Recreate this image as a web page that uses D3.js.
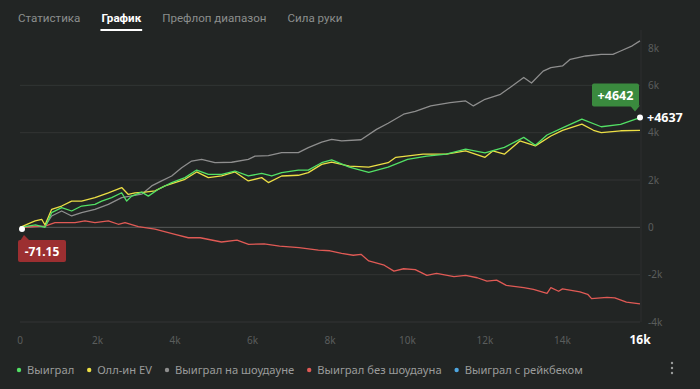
<!DOCTYPE html>
<html>
<head>
<meta charset="utf-8">
<script src="https://cdn.jsdelivr.net/npm/d3@7"></script>
<style>
  html, body { margin: 0; padding: 0; background: #222524; }
  svg { display: block; font-family: "Noto Sans", Roboto, sans-serif; }
</style>
</head>
<body>
<div id="viz"></div>
<script>
// tabs on top
const tabs = ["Статистика", "График", "Префлоп диапазон", "Сила руки"];
const activeTab = "График";

// axis ticks
const xTicks = [0, 2000, 4000, 6000, 8000, 10000, 12000, 14000, 16000];
const xTickLabels = ["0", "2k", "4k", "6k", "8k", "10k", "12k", "14k", "16k"];
const yTicks = [-4000, -2000, 0, 2000, 4000, 6000, 8000];
const yTickLabels = ["-4k", "-2k", "0", "2k", "4k", "6k", "8k"];

// series: [hands, winnings]
const wonShowdown = [
  [0, 0], [400, 40], [650, 50], [817, 480], [1075, 690], [1333, 480], [1590, 620],
  [1935, 760], [2280, 970], [2624, 1255], [2882, 1330], [3140, 1400], [3398, 1750],
  [3656, 1960], [3914, 2170], [4172, 2520], [4430, 2800], [4688, 2870], [5032, 2730],
  [5462, 2750], [5892, 2870], [6065, 3010], [6409, 3030], [6752, 3160], [7183, 3160],
  [7440, 3370], [7785, 3600], [8043, 3720], [8300, 3650], [8800, 3700], [9200, 4140],
  [9500, 4400], [9900, 4780], [10200, 4900], [10600, 5130], [11100, 5270], [11500, 5340],
  [11700, 5130], [12000, 5410], [12400, 5620], [12700, 5970], [13000, 6330], [13200, 6100],
  [13500, 6600], [13700, 6750], [14000, 6820], [14200, 7100], [14600, 7240], [15000, 7310],
  [15300, 7310], [15500, 7450], [15800, 7670], [16000, 7880]
];
const wonNoShowdown = [
  [0, 0], [645, 50], [903, 200], [1420, 200], [1677, 270], [1935, 200], [2280, 270],
  [2537, 130], [2710, 200], [3054, 30], [3484, -80], [4000, -300], [4344, -440],
  [4650, -440], [5200, -620], [5600, -540], [5900, -720], [6300, -700], [6700, -790],
  [7200, -860], [7700, -960], [8000, -990], [8300, -1100], [8600, -1180], [8800, -1140],
  [9000, -1420], [9400, -1600], [9650, -1850], [9900, -1750], [10200, -1790], [10500, -2030],
  [10750, -1950], [11200, -2080], [11500, -2030], [11800, -2130], [12050, -2270], [12300, -2230],
  [12550, -2450], [13000, -2550], [13250, -2620], [13600, -2790], [13700, -2550], [13900, -2700],
  [14000, -2600], [14450, -2730], [14650, -2830], [14750, -3010], [15150, -2960], [15350, -2980],
  [15650, -3160], [16000, -3230]
];
const allInEV = [
  [0, 0], [390, 270], [560, 340], [645, 100], [817, 760], [1075, 900], [1333, 1110],
  [1590, 1110], [1935, 1255], [2280, 1460], [2624, 1680], [2795, 1390], [2968, 1460],
  [3226, 1490], [3484, 1540], [3742, 1750], [4000, 1890], [4258, 2030], [4559, 2340],
  [4860, 2100], [5205, 2170], [5548, 2340], [5892, 1960], [6237, 2100], [6409, 1890],
  [6752, 2170], [7183, 2200], [7440, 2310], [7785, 2660], [8043, 2760], [8500, 2590],
  [9000, 2540], [9500, 2730], [9700, 2960], [10400, 3090], [11000, 3090], [11500, 3230],
  [12000, 2960], [12200, 3230], [12500, 3090], [12900, 3650], [13300, 3440], [13700, 3860],
  [14000, 4100], [14500, 4360], [14800, 4100], [15000, 4000], [15500, 4080], [16000, 4100]
];
const won = [
  [0, 0], [400, 100], [645, 0], [817, 620], [1075, 830], [1333, 690], [1590, 900],
  [1935, 970], [2108, 1110], [2366, 1255], [2624, 1460], [2753, 1110], [2882, 1320],
  [3140, 1490], [3312, 1320], [3570, 1610], [3914, 1890], [4258, 2100], [4559, 2420],
  [4860, 2240], [5205, 2240], [5548, 2380], [5892, 2170], [6237, 2280], [6495, 2170],
  [6752, 2310], [7183, 2420], [7440, 2420], [7785, 2730], [8043, 2850], [8500, 2540],
  [9000, 2320], [9500, 2540], [10000, 2870], [10500, 3010], [11000, 3090], [11500, 3300],
  [12000, 3150], [12500, 3380], [13000, 3800], [13300, 3470], [13600, 3900], [14000, 4200],
  [14500, 4570], [15000, 4250], [15500, 4350], [16000, 4637]
];

const legendNames = ["Выиграл", "Олл-ин EV", "Выиграл на шоудауне", "Выиграл без шоудауна", "Выиграл с рейкбеком"];
const legendColors = ["#52e065", "#ecdf45", "#8e8e8e", "#e05a55", "#4ea6e0"];

const startValue = -71.15;
const endTip = "+4642";
const endValue = "+4637";

const width = 700, height = 389;

const svg = d3.select("#viz").append("svg")
    .attr("width", width)
    .attr("height", height);

const x = d3.scaleLinear().domain([0, 16000]).range([20, 640]);
const y = d3.scaleLinear().domain([-4000, 8000]).range([322, 38]);

// tabs
let tx = 18;
tabs.forEach(function (t) {
    const txt = svg.append("text")
        .attr("x", tx)
        .attr("y", 22)
        .attr("font-family", "Roboto, sans-serif")
        .attr("font-size", 11.6)
        .attr("fill", t == activeTab ? "#ffffff" : "#8b8e8d")
        .attr("font-weight", t == activeTab ? "bold" : "normal")
        .text(t);
    const w = txt.node().getComputedTextLength();
    if (t == activeTab) {
        svg.append("rect")
            .attr("x", tx - 1).attr("y", 29)
            .attr("width", w + 2).attr("height", 2)
            .attr("fill", "#ffffff");
    }
    tx += w + 21;
});

// grid
svg.append("g")
    .selectAll("line")
    .data(yTicks.filter(d => d < 8000))
    .join("line")
    .attr("x1", x(0)).attr("x2", x(16000))
    .attr("y1", d => y(d)).attr("y2", d => y(d))
    .attr("stroke", d => d == 0 ? "#585b5a" : "#323534")
    .attr("stroke-width", 1);

svg.append("line")
    .attr("x1", x(16000) + 1).attr("x2", x(16000) + 1)
    .attr("y1", 30).attr("y2", y(-4000))
    .attr("stroke", "#2c2f2e");

// y labels
svg.append("g")
    .selectAll("text")
    .data(yTicks)
    .join("text")
    .attr("x", 648)
    .attr("y", d => Math.max(y(d), 48))
    .attr("dy", "0.35em")
    .attr("font-size", 10)
    .attr("fill", "#5a5d5c")
    .text((d, i) => yTickLabels[i]);

// x labels
svg.append("g")
    .selectAll("text")
    .data(xTicks)
    .join("text")
    .attr("x", d => x(d))
    .attr("y", 344)
    .attr("text-anchor", "middle")
    .attr("font-size", d => d == 16000 ? 12 : 10)
    .attr("font-weight", d => d == 16000 ? "bold" : "normal")
    .attr("fill", d => d == 16000 ? "#ffffff" : "#5a5d5c")
    .text((d, i) => xTickLabels[i]);

// lines
const line = d3.line()
    .x(d => x(d[0]))
    .y(d => y(d[1]));

const series = [
    { data: wonShowdown, color: legendColors[2] },
    { data: wonNoShowdown, color: legendColors[3] },
    { data: allInEV, color: legendColors[1] },
    { data: won, color: legendColors[0] }
];

svg.append("g")
    .selectAll("path")
    .data(series)
    .join("path")
    .attr("d", d => line(d.data))
    .attr("fill", "none")
    .attr("stroke", d => d.color)
    .attr("stroke-width", 1.3)
    .attr("stroke-linejoin", "round");

// start marker + tooltip
const sx = x(0) + 2, sy = y(startValue);
svg.append("circle").attr("cx", sx).attr("cy", sy).attr("r", 3).attr("fill", "#ffffff");
svg.append("path")
    .attr("d", `M${sx - 2},${sy + 12} L${sx + 2},${sy + 6} L${sx + 8},${sy + 12} Z`)
    .attr("fill", "#9c2f31");
svg.append("rect")
    .attr("x", 18).attr("y", sy + 11)
    .attr("width", 48).attr("height", 22).attr("rx", 2)
    .attr("fill", "#9c2f31");
svg.append("text")
    .attr("x", 42).attr("y", sy + 26.5)
    .attr("text-anchor", "middle")
    .attr("font-size", 12).attr("font-weight", "bold")
    .attr("fill", "#ffffff")
    .text(startValue.toFixed(2));

// end marker + tooltip
const ex = x(16000), ey = y(won[won.length - 1][1]);
svg.append("rect")
    .attr("x", 592).attr("y", ey - 34)
    .attr("width", 47).attr("height", 23).attr("rx", 2)
    .attr("fill", "#3a8a3e");
svg.append("path")
    .attr("d", `M${ex - 10},${ey - 12} L${ex - 5},${ey - 6} L${ex},${ey - 12} Z`)
    .attr("fill", "#3a8a3e");
svg.append("text")
    .attr("x", 615.5).attr("y", ey - 18)
    .attr("text-anchor", "middle")
    .attr("font-size", 12.5).attr("font-weight", "bold")
    .attr("fill", "#ffffff")
    .text(endTip);
svg.append("circle").attr("cx", ex).attr("cy", ey).attr("r", 3).attr("fill", "#ffffff");
svg.append("text")
    .attr("x", 647).attr("y", ey + 4.5)
    .attr("font-size", 12.5).attr("font-weight", "bold")
    .attr("fill", "#ffffff")
    .text(endValue);

// legend
let lx = 19;
legendNames.forEach(function (name, i) {
    svg.append("circle")
        .attr("cx", lx).attr("cy", 370).attr("r", 2.2)
        .attr("fill", legendColors[i]);
    const t = svg.append("text")
        .attr("x", lx + 8).attr("y", 374)
        .attr("font-size", 11.2)
        .attr("fill", "#9a9c9b")
        .text(name);
    lx += t.node().getComputedTextLength() + 23;
});

// menu dots
[363, 368, 373].forEach(function (cy) {
    svg.append("circle").attr("cx", 672).attr("cy", cy).attr("r", 1.2).attr("fill", "#9a9c9b");
});
</script>
</body>
</html>
